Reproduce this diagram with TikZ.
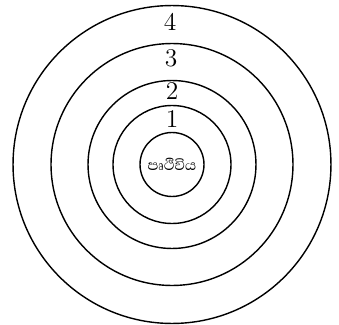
\documentclass[tikz,border=0pt]{standalone}
\usepackage{fontspec}
\newfontfamily\sinhalafont[Script=Sinhala]{Abhaya Libre}
\usetikzlibrary{positioning}

\begin{document}
\begin{tikzpicture}[
    x=0.02cm, y=-0.02cm,
    orbit/.style={circle, draw, line width=0.8pt, inner sep=0pt},
    num/.style={font=\fontsize{14.5}{14.5}\selectfont, inner sep=0pt}
]
    \useasboundingbox (0,0) rectangle (339,325);
    \coordinate (centre) at (172,164.5);

    \node[orbit, minimum size=1.28cm, font=\sinhalafont\fontsize{10.5}{12}\selectfont] (earth) at (centre) {පෘථිවිය};
    \node[orbit, minimum size=2.36cm] (ring1) at (centre) {};
    \node[orbit, minimum size=3.36cm] (ring2) at (centre) {};
    \node[orbit, minimum size=4.84cm] (ring3) at (centre) {};
    \node[orbit, minimum size=6.36cm] (ring4) at (centre) {};

    \node[num] (lab1) at (172,119) {1};
    \node[num] (lab2) at (172,91) {2};
    \node[num] (lab3) at (171,58) {3};
    \node[num] (lab4) at (170,22) {4};
\end{tikzpicture}
\end{document}
